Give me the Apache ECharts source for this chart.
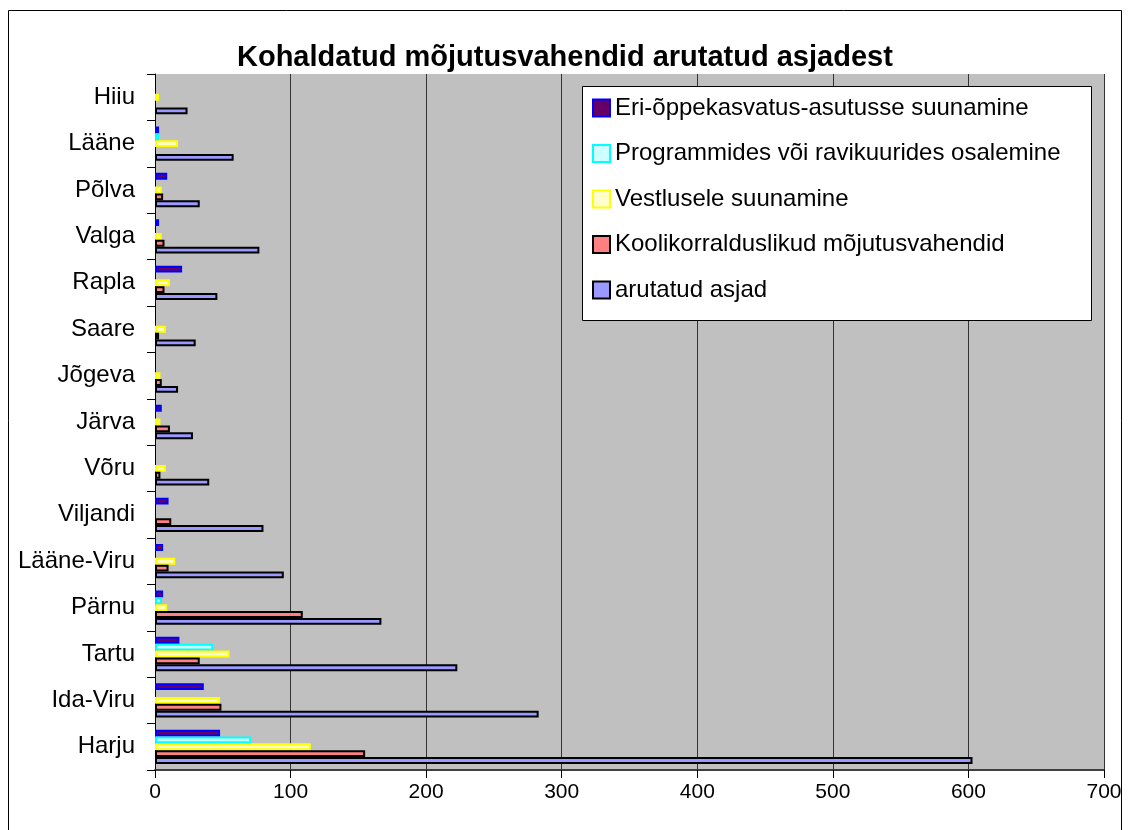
<!DOCTYPE html>
<html>
<head>
<meta charset="utf-8">
<script src="https://cdn.jsdelivr.net/npm/echarts@6/dist/echarts.min.js"></script>
<style>html,body{margin:0;padding:0;background:#fff}#c{width:1130px;height:830px}</style>
</head>
<body>
<div id="c"></div>
<script>
const titleText = 'Kohaldatud mõjutusvahendid arutatud asjadest';
const categories = ['Harju','Ida-Viru','Tartu','Pärnu','Lääne-Viru','Viljandi','Võru','Järva','Jõgeva','Saare','Rapla','Valga','Põlva','Lääne','Hiiu'];
const xTicks = [0,100,200,300,400,500,600,700];
const seriesNames = ['Eri-õppekasvatus-asutusse suunamine','Programmides või ravikuurides osalemine','Vestlusele suunamine','Koolikorralduslikud mõjutusvahendid','arutatud asjad'];
const eriValues = [48,36,18,6,6,10,0,5,0,0,20,3,9,3,0];
const programmValues = [71,0,43,5,0,0,0,0,0,0,0,0,0,3,0];
const vestlusValues = [115,48,55,9,15,0,8,4,4,8,11,5,5,17,3];
const koolValues = [155,49,33,109,10,12,4,11,5,3,7,7,6,0,0];
const arutatudValues = [603,283,223,167,95,80,40,28,17,30,46,77,33,58,24];

const FONT = '"Liberation Sans", Arial, sans-serif';
const styles = [
  {color:'#660066', borderColor:'#0000FF', borderWidth:2},
  {color:'#CCFFFF', borderColor:'#00FFFF', borderWidth:2},
  {color:'#FFFFCC', borderColor:'#FFFF00', borderWidth:2},
  {color:'#FF8080', borderColor:'#000000', borderWidth:2},
  {color:'#9999FF', borderColor:'#000000', borderWidth:2}
];
const valueSets = [eriValues, programmValues, vestlusValues, koolValues, arutatudValues];
const nz = v => (v === 0 ? null : v);

const chart = echarts.init(document.getElementById('c'));
chart.setOption({
  backgroundColor:'#ffffff',
  animation:false,
  title:{text:titleText, left:232, top:38, textStyle:{fontFamily:FONT, fontSize:29, fontWeight:'bold', color:'#000'}},
  grid:{left:155, top:74, right:26, bottom:60, show:true, backgroundColor:'#C0C0C0', borderWidth:0},
  legend:{orient:'vertical', left:592, top:96, padding:0, itemWidth:17, itemHeight:17, itemGap:21.5, z:5,
    data:seriesNames, icon:'rect',
    textStyle:{fontFamily:FONT, fontSize:24, lineHeight:24, color:'#000'}},
  xAxis:{type:'value', min:0, max:700, interval:100,
    axisLine:{show:true, lineStyle:{color:'#404040', width:2}},
    axisTick:{show:true, length:8, lineStyle:{color:'#000'}},
    axisLabel:{fontFamily:FONT, fontSize:21, color:'#000', margin:12, formatter:v=>xTicks.includes(v)?String(v):''},
    splitLine:{show:true, lineStyle:{color:'#333', width:1}}},
  yAxis:{type:'category', data:categories,
    axisLine:{show:true, lineStyle:{color:'#000', width:1}},
    axisTick:{show:true, length:8, lineStyle:{color:'#000'}},
    axisLabel:{fontFamily:FONT, fontSize:24, color:'#000', margin:20},
    splitLine:{show:false}},
  graphic:[
    {type:'rect', z:-10, shape:{x:8.5, y:10.5, width:1113, height:840}, style:{fill:'none', stroke:'#000', lineWidth:1}},
    {type:'rect', z:3, shape:{x:582.5, y:86.5, width:509, height:234}, style:{fill:'#fff', stroke:'#000', lineWidth:1}}
  ],
  series: seriesNames.map((n,i)=>({
    name:n, type:'bar', data:valueSets[i].map(nz), barGap:'0%', barCategoryGap:'26%',
    itemStyle:styles[i]
  }))
});
</script>
</body>
</html>
